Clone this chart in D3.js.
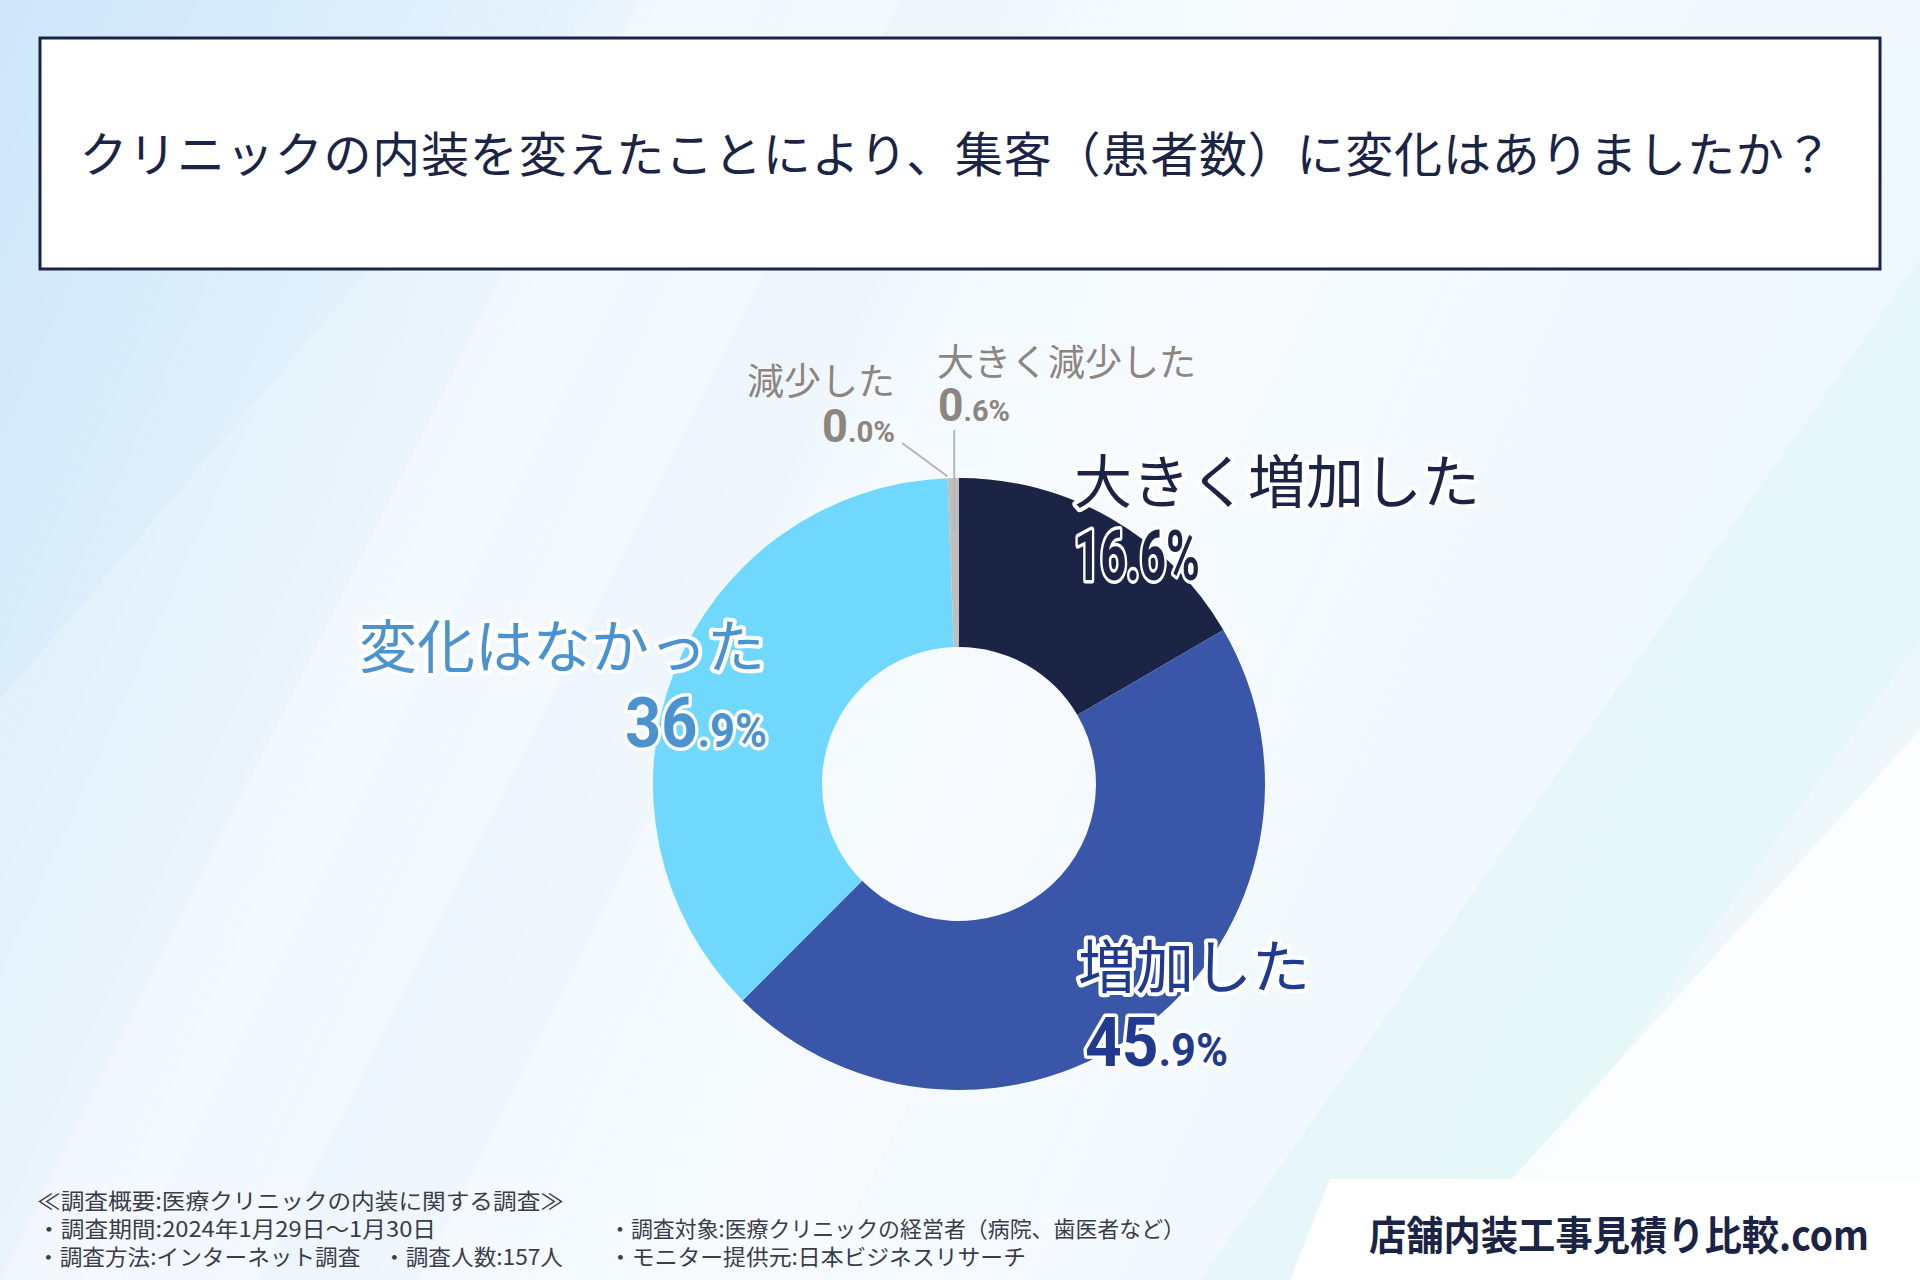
<!DOCTYPE html>
<html>
<head>
<meta charset="utf-8">
<script src="https://cdn.jsdelivr.net/npm/d3@7"></script>
<style>
  html, body { margin: 0; padding: 0; background: #fff; }
  svg { display: block; }
</style>
</head>
<body>
<svg id="chart"></svg>
<script>
// data
var title = "クリニックの内装を変えたことにより、集客（患者数）に変化はありましたか？";
var categories = ["大きく増加した", "増加した", "変化はなかった", "減少した", "大きく減少した"];
var values = [16.6, 45.9, 36.9, 0.0, 0.6];
var notes = [
  "≪調査概要:医療クリニックの内装に関する調査≫",
  "・調査期間:2024年1月29日～1月30日",
  "・調査方法:インターネット調査　・調査人数:157人",
  "・調査対象:医療クリニックの経営者（病院、歯医者など）",
  "・モニター提供元:日本ビジネスリサーチ"
];
var brand = "店舗内装工事見積り比較.com";

var W = 1920, H = 1280;
var jp = "'Noto Sans CJK JP', 'Noto Sans', sans-serif";
var numFont = "Roboto, 'Liberation Sans', sans-serif";
var colors = ["#1b2445", "#3a56a8", "#70d8fd", "#bfbfbf", "#bfbfbf"];

var svg = d3.select("#chart").attr("width", W).attr("height", H);

// background
var defs = svg.append("defs");
var bg = defs.append("linearGradient").attr("id", "bg")
    .attr("x1", "0").attr("y1", "0").attr("x2", "1").attr("y2", "0.3");
bg.append("stop").attr("offset", "0").attr("stop-color", "#cde7fa");
bg.append("stop").attr("offset", "0.35").attr("stop-color", "#ecf5fc");
bg.append("stop").attr("offset", "0.7").attr("stop-color", "#f5fafe");
bg.append("stop").attr("offset", "1").attr("stop-color", "#eef8fb");
svg.append("rect").attr("width", W).attr("height", H).attr("fill", "url(#bg)");

var bands = [
  {pts: [[0, 1280], [260, 1280], [900, 0], [640, 0]], fill: "#ffffff", op: 0.35},
  {pts: [[0, 700], [0, 1280], [120, 1280], [760, 0], [600, 0]], fill: "#ffffff", op: 0.2},
  {pts: [[420, 1280], [820, 1280], [1460, 0], [1060, 0]], fill: "#ffffff", op: 0.25},
  {pts: [[1200, 1280], [1460, 1280], [1920, 640], [1920, 260]], fill: "#ddf6f6", op: 0.5},
  {pts: [[1420, 1280], [1920, 1280], [1920, 730]], fill: "#ffffff", op: 0.75}
];
svg.selectAll("polygon.band").data(bands).enter().append("polygon")
    .attr("class", "band")
    .attr("points", function(d) { return d.pts.join(" "); })
    .attr("fill", function(d) { return d.fill; })
    .attr("opacity", function(d) { return d.op; });

// title box
svg.append("rect")
    .attr("x", 40).attr("y", 38).attr("width", 1840).attr("height", 231)
    .attr("fill", "#fff").attr("stroke", "#1b2445").attr("stroke-width", 3);
svg.append("text")
    .attr("x", 956).attr("y", 172)
    .attr("text-anchor", "middle")
    .attr("font-family", jp).attr("font-size", 48)
    .attr("fill", "#1b2445")
    .attr("textLength", 1753).attr("lengthAdjust", "spacing")
    .text(title);

// donut
var cx = 959, cy = 784, rOut = 306, rIn = 137;
var pie = d3.pie().sort(null).value(function(d) { return d; });
var arcs = pie(values);
var arc = d3.arc().innerRadius(rIn).outerRadius(rOut);

var g = svg.append("g").attr("transform", "translate(" + cx + "," + cy + ")");
g.selectAll("path").data(arcs).enter().append("path")
    .attr("d", arc)
    .attr("fill", function(d, i) { return colors[i]; });

// leader lines for the small slices
var pt = function(a, r) { return [cx + r * Math.sin(a), cy - r * Math.cos(a)]; };
var p0 = pt(arcs[3].startAngle, rOut + 2);
svg.append("line")
    .attr("x1", p0[0]).attr("y1", p0[1]).attr("x2", 902).attr("y2", 443)
    .attr("stroke", "#b5b5b5").attr("stroke-width", 2);
var p1 = pt((arcs[4].startAngle + arcs[4].endAngle) / 2, 254);
svg.append("line")
    .attr("x1", p1[0]).attr("y1", p1[1]).attr("x2", p1[0]).attr("y2", 430)
    .attr("stroke", "#b5b5b5").attr("stroke-width", 2);

// labels
var labels = [
  {x: 1074, y: 503, anchor: "start", size: 58, color: "#1b2445", outline: true,
   nx: 1074, ny: 580, nAnchor: "start", big: 70, small: 70, nw: 126},
  {x: 1078, y: 988, anchor: "start", size: 58, color: "#213a8f", outline: true,
   nx: 1085, ny: 1066, nAnchor: "start", big: 68, small: 46, nw: 143},
  {x: 765, y: 668, anchor: "end", size: 58, color: "#4a93cf", outline: true,
   nx: 767, ny: 747, nAnchor: "end", big: 70, small: 48, nw: 142},
  {x: 895, y: 395, anchor: "end", size: 37, color: "#8c8580", outline: false,
   nx: 895, ny: 442, nAnchor: "end", big: 46, small: 30, nw: 73},
  {x: 937, y: 376, anchor: "start", size: 37, color: "#8c8580", outline: false,
   nx: 938, ny: 421, nAnchor: "start", big: 46, small: 30, nw: 72}
];

categories.forEach(function(c, i) {
  var L = labels[i];
  var t = svg.append("text")
      .attr("x", L.x).attr("y", L.y)
      .attr("text-anchor", L.anchor)
      .attr("font-family", jp).attr("font-size", L.size)
      .attr("fill", L.color)
      .text(c);
  if (L.outline) {
    t.attr("stroke", "#fff").attr("stroke-width", 8)
     .attr("stroke-linejoin", "round").attr("paint-order", "stroke");
  }

  var parts = values[i].toFixed(1).split(".");
  var ng = svg.append("g").attr("transform", "translate(" + L.nx + "," + L.ny + ")");
  var n = ng.append("text")
      .attr("text-anchor", L.nAnchor)
      .attr("font-family", numFont).attr("font-weight", 700)
      .attr("fill", L.color);
  if (L.outline) {
    n.attr("stroke", "#fff").attr("stroke-width", 7)
     .attr("stroke-linejoin", "round").attr("paint-order", "stroke");
  }
  n.append("tspan").attr("font-size", L.big).text(parts[0]);
  n.append("tspan").attr("font-size", L.small).text("." + parts[1] + "%");
  var w = n.node().getComputedTextLength();
  n.attr("transform", "scale(" + (L.nw / w) + ",1)");
});

// survey notes
var noteLayout = [
  {x: 37, y: 1209, w: 527},
  {x: 37, y: 1237, w: 399},
  {x: 37, y: 1265, w: 526},
  {x: 609, y: 1237, w: 576},
  {x: 609, y: 1265, w: 417}
];
notes.forEach(function(s, i) {
  var L = noteLayout[i];
  svg.append("text")
      .attr("x", L.x).attr("y", L.y)
      .attr("font-family", jp).attr("font-size", 22)
      .attr("fill", "#3a3d4a")
      .attr("textLength", L.w).attr("lengthAdjust", "spacingAndGlyphs")
      .text(s);
});

// brand box
svg.append("polygon")
    .attr("points", [[1330, 1179], [1920, 1179], [1920, 1280], [1290, 1280]].join(" "))
    .attr("fill", "#fff");
svg.append("text")
    .attr("x", 1369).attr("y", 1250)
    .attr("font-family", jp).attr("font-weight", 700).attr("font-size", 40)
    .attr("fill", "#1b2445")
    .attr("textLength", 500).attr("lengthAdjust", "spacingAndGlyphs")
    .text(brand);
</script>
</body>
</html>
